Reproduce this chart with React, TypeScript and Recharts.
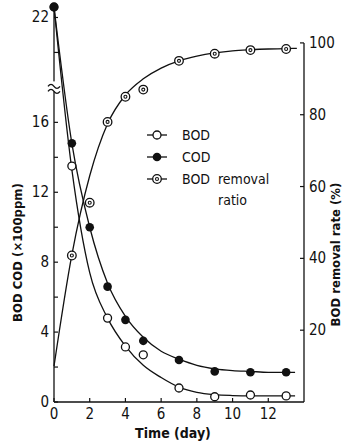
import { ComposedChart, Legend, Line, ReferenceLine, XAxis, YAxis } from "recharts";

const BOD_DAYS = [0, 1, 3, 4, 5, 7, 9, 11, 13];
const BOD_VALUES = [22.6, 13.5, 4.8, 3.15, 2.7, 0.8, 0.3, 0.4, 0.35];
const COD_DAYS = [0, 1, 2, 3, 4, 5, 7, 9, 11, 13];
const COD_VALUES = [22.6, 14.8, 10.0, 6.6, 4.7, 3.5, 2.4, 1.75, 1.7, 1.7];
const RATIO_DAYS = [1, 2, 3, 4, 5, 7, 9, 11, 13];
const RATIO_VALUES = [40.8, 55.5, 78, 85, 87, 95, 97, 98, 98.3];

// fitted curves as drawn in the figure
const CURVE_DAYS = [0, 1, 2, 3, 4, 5, 6, 7, 8, 9, 10, 11, 12, 13, 13.5];
const BOD_CURVE = [22.6, 13.3, 7.4, 4.8, 3.2, 2.1, 1.4, 0.85, 0.55, 0.42, 0.37, 0.35, 0.35, 0.35, 0.35];
const COD_CURVE = [22.6, 14.8, 10.0, 6.8, 4.9, 3.7, 2.9, 2.45, 2.1, 1.9, 1.8, 1.75, 1.7, 1.7, 1.7];
const RATIO_CURVE_DAYS = [0, 1, 2, 3, 4, 5, 6, 7, 8, 9, 10, 11, 12, 13, 13.6];
const RATIO_CURVE = [10, 41, 63, 77.5, 85.5, 90, 93, 95, 96.3, 97.2, 97.8, 98.1, 98.3, 98.4, 98.5];

const X_TICKS = [0, 2, 4, 6, 8, 10, 12];
const LEFT_TICKS = [0, 2, 4, 6, 8, 10, 12, 14, 16, 18, 20, 22];
const LEFT_LABELS = [0, 4, 8, 12, 16, 22];
const LEFT_BREAK = 18;
const RIGHT_TICKS = [20, 40, 60, 80, 100];

const FONT = "'Liberation Sans Narrow', 'DejaVu Sans Condensed', Arial, sans-serif";
const INK = "#111";

const toRows = (days: number[], vals: number[]) => days.map((t, i) => ({ t, v: vals[i] }));

const openDot = (p: any) => (
  <circle key={`o${p.index}`} cx={p.cx} cy={p.cy} r={4} fill="#fff" stroke={INK} strokeWidth={1.3} />
);
const fullDot = (p: any) => <circle key={`f${p.index}`} cx={p.cx} cy={p.cy} r={4.3} fill={INK} />;
const ringDot = (p: any) => (
  <g key={`r${p.index}`}>
    <circle cx={p.cx} cy={p.cy} r={4.3} fill="#fff" stroke={INK} strokeWidth={1.3} />
    <circle cx={p.cx} cy={p.cy} r={1.5} fill="none" stroke={INK} strokeWidth={1.1} />
  </g>
);

function XTick(props: any) {
  const { x, y, payload } = props;
  const axisY = y - 6;
  return (
    <g>
      <line x1={x} x2={x} y1={axisY} y2={axisY - 4} stroke={INK} strokeWidth={1.2} />
      <text x={x} y={y} dy={11} textAnchor="middle" fontFamily={FONT} fontSize={15} fill={INK}>
        {payload.value}
      </text>
    </g>
  );
}

function LeftTick(props: any) {
  const { x, y, payload } = props;
  const axisX = x + 5;
  if (payload.value === LEFT_BREAK) {
    return (
      <g>
        <rect x={axisX - 2} y={y - 6} width={4} height={10} fill="#fff" />
        <path
          d={`M${axisX - 6},${y - 1} q3,-4 6,0 t6,0 M${axisX - 6},${y + 4} q3,-4 6,0 t6,0`}
          fill="none"
          stroke={INK}
          strokeWidth={1.3}
        />
      </g>
    );
  }
  const labelled = LEFT_LABELS.includes(payload.value);
  return (
    <g>
      <line x1={axisX} x2={axisX + 4} y1={y} y2={y} stroke={INK} strokeWidth={1.2} />
      {labelled && (
        <text x={x} y={y} dy={5} textAnchor="end" fontFamily={FONT} fontSize={15} fill={INK}>
          {payload.value}
        </text>
      )}
    </g>
  );
}

function RightTick(props: any) {
  const { x, y, payload } = props;
  const axisX = x - 5;
  return (
    <g>
      <line x1={axisX} x2={axisX - 4} y1={y} y2={y} stroke={INK} strokeWidth={1.2} />
      <text x={x} y={y} dy={5} textAnchor="start" fontFamily={FONT} fontSize={15} fill={INK}>
        {payload.value}
      </text>
    </g>
  );
}

const leftTitle = (props: any) => {
  const vb = props.viewBox;
  const x = vb.x + 17;
  const y = vb.y + vb.height / 2 + 48;
  return (
    <text x={x} y={y} transform={`rotate(-90 ${x} ${y})`} textAnchor="middle" dominantBaseline="central"
      fontFamily={FONT} fontSize={13} fontWeight="bold" fill={INK}>
      BOD COD (×100ppm)
    </text>
  );
};

const rightTitle = (props: any) => {
  const vb = props.viewBox;
  const x = vb.x + 31;
  const y = vb.y + vb.height / 2 + 50;
  return (
    <text x={x} y={y} transform={`rotate(-90 ${x} ${y})`} textAnchor="middle" dominantBaseline="central"
      fontFamily={FONT} fontSize={13} fontWeight="bold" fill={INK}>
      BOD removal rate (%)
    </text>
  );
};

const xTitle = (props: any) => {
  const vb = props.viewBox;
  return (
    <text x={vb.x + vb.width / 2 - 6} y={vb.y + 31} textAnchor="middle" dominantBaseline="central"
      fontFamily={FONT} fontSize={14} fontWeight="bold" fill={INK}>
      Time (day)
    </text>
  );
};

const LEGEND_ROWS = [
  { name: "BOD", dot: openDot },
  { name: "COD", dot: fullDot },
  { name: "BOD  removal", dot: ringDot, sub: "ratio" },
];

function LegendBox() {
  return (
    <svg width={110} height={80} style={{ overflow: "visible" }}>
      {LEGEND_ROWS.map((r, i) => {
        const cy = 10 + i * 22;
        return (
          <g key={r.name}>
            <line x1={0} x2={20} y1={cy} y2={cy} stroke={INK} strokeWidth={1.3} />
            {r.dot({ cx: 10, cy, index: i })}
            <text x={35} y={cy} dy={5} fontFamily={FONT} fontSize={14} fill={INK} xmlSpace="preserve">
              {r.name}
            </text>
            {r.sub && (
              <text x={71} y={cy + 21} dy={5} fontFamily={FONT} fontSize={14} fill={INK}>
                {r.sub}
              </text>
            )}
          </g>
        );
      })}
    </svg>
  );
}

export default function App() {
  return (
    <div style={{ position: "absolute", left: 0, top: 0, background: "#fff" }}>
      <ComposedChart width={342} height={443} margin={{ top: 7, right: 0, bottom: 0, left: 0 }}>
        <XAxis
          type="number"
          dataKey="t"
          domain={[0, 14]}
          ticks={X_TICKS}
          height={41}
          tickSize={0}
          tickMargin={6}
          tick={<XTick />}
          stroke={INK}
          strokeWidth={1.3}
          label={{ content: xTitle }}
        />
        <YAxis
          yAxisId="left"
          dataKey="v"
          domain={[0, 22.6]}
          ticks={LEFT_TICKS}
          width={54}
          tickSize={0}
          tickMargin={5}
          tick={<LeftTick />}
          stroke={INK}
          strokeWidth={1.3}
          interval={0}
          label={{ content: leftTitle }}
        />
        <YAxis
          yAxisId="right"
          orientation="right"
          dataKey="v"
          domain={[0, 110]}
          ticks={RIGHT_TICKS}
          width={38}
          tickSize={0}
          tickMargin={5}
          tick={<RightTick />}
          axisLine={false}
          interval={0}
          label={{ content: rightTitle }}
        />
        <ReferenceLine
          yAxisId="right"
          segment={[{ x: 14, y: 0 }, { x: 14, y: 100 }]}
          stroke={INK}
          strokeWidth={1.3}
          ifOverflow="visible"
        />
        <Legend
          layout="vertical"
          align="center"
          verticalAlign="middle"
          content={() => <LegendBox />}
          wrapperStyle={{ left: 147, top: 125, width: 120 }}
        />
        <Line yAxisId="left" data={toRows(CURVE_DAYS, BOD_CURVE)} dataKey="v" type="monotone" stroke={INK} strokeWidth={1.3} dot={false} isAnimationActive={false} />
        <Line yAxisId="left" data={toRows(CURVE_DAYS, COD_CURVE)} dataKey="v" type="monotone" stroke={INK} strokeWidth={1.3} dot={false} isAnimationActive={false} />
        <Line yAxisId="right" data={toRows(RATIO_CURVE_DAYS, RATIO_CURVE)} dataKey="v" type="monotone" stroke={INK} strokeWidth={1.3} dot={false} isAnimationActive={false} />
        <Line yAxisId="left" data={toRows(BOD_DAYS, BOD_VALUES)} dataKey="v" stroke="none" dot={openDot} activeDot={false} isAnimationActive={false} />
        <Line yAxisId="left" data={toRows(COD_DAYS, COD_VALUES)} dataKey="v" stroke="none" dot={fullDot} activeDot={false} isAnimationActive={false} />
        <Line yAxisId="right" data={toRows(RATIO_DAYS, RATIO_VALUES)} dataKey="v" stroke="none" dot={ringDot} activeDot={false} isAnimationActive={false} />
      </ComposedChart>
    </div>
  );
}
